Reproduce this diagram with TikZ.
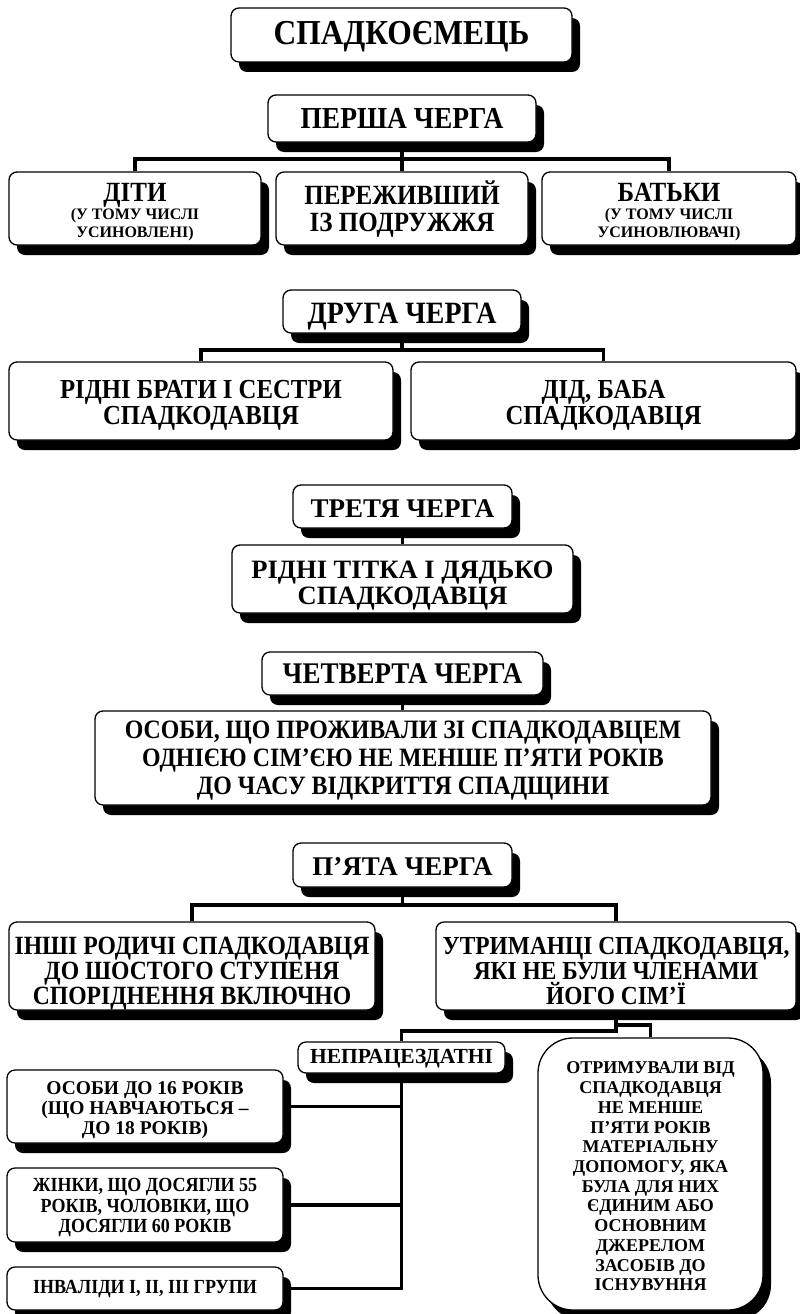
\documentclass[tikz,border=0pt]{standalone}
\usepackage{fontspec}
\setmainfont{Liberation Serif}
\newfontfamily\cond{Liberation Serif}[FakeStretch=0.9]
\usetikzlibrary{shadows}
\pgfdeclarelayer{bg}
\pgfsetlayers{bg,main}
\newcommand{\fs}[2]{\fontsize{#1}{#2}\selectfont}
\tikzset{
  box/.style={draw, line width=1.3pt, rounded corners=8pt, fill=white,
    align=center, inner sep=0pt,
    drop shadow={shadow xshift=8pt, shadow yshift=-10pt, fill=black, opacity=1}},
  conn/.style={line width=3.5pt, line join=miter},
}
\begin{document}
\begin{tikzpicture}[x=1pt, y=-1pt]
\begin{pgfonlayer}{bg}
\fill[white] (0,0) rectangle (800,1314);
\end{pgfonlayer}
\useasboundingbox (0,0) rectangle (800,1314);

\node[box, minimum width=341pt, minimum height=54pt, font=\cond\bfseries\fs{35}{37},
  text height=23.9pt, text depth=5pt] (title) at (401.5,35) {СПАДКОЄМЕЦЬ};

\node[box, minimum width=268pt, minimum height=47pt, font=\cond\bfseries\fs{30.5}{32},
  text height=25pt, text depth=5pt] (p1) at (402,118.5) {ПЕРША ЧЕРГА};
\node[box, minimum width=252pt, minimum height=73pt, font=\bfseries\fs{16}{18.25},
  text height=63pt, text depth=5pt] (diti) at (135,208.5)
  {{\cond\fs{27.8}{18.25}ДІТИ}\\(У ТОМУ ЧИСЛІ\\УСИНОВЛЕНІ)};
\node[box, minimum width=252pt, minimum height=73pt, font=\cond\bfseries\fs{27.8}{27},
  text height=50.2pt, text depth=5pt] (perezh) at (402,208.5)
  {ПЕРЕЖИВШИЙ\\ІЗ ПОДРУЖЖЯ};
\node[box, minimum width=254pt, minimum height=73pt, font=\bfseries\fs{16}{18.25},
  text height=63pt, text depth=5pt] (batky) at (669,208.5)
  {{\cond\fs{27.8}{18.25}БАТЬКИ}\\(У ТОМУ ЧИСЛІ\\УСИНОВЛЮВАЧІ)};

\node[box, minimum width=238pt, minimum height=43pt, font=\cond\bfseries\fs{31}{33},
  text height=28.3pt, text depth=5pt] (p2) at (402,311.5) {ДРУГА ЧЕРГА};
\node[box, minimum width=384pt, minimum height=78pt, font=\cond\bfseries\fs{27.5}{26},
  text height=52pt, text depth=5pt] (brat) at (201,401)
  {РІДНІ БРАТИ І СЕСТРИ\\СПАДКОДАВЦЯ};
\node[box, minimum width=385pt, minimum height=78pt, font=\cond\bfseries\fs{27.5}{26},
  text height=52pt, text depth=5pt] (did) at (603.5,401)
  {ДІД, БАБА\\СПАДКОДАВЦЯ};

\node[box, minimum width=219pt, minimum height=43pt, font=\bfseries\fs{27}{29},
  text height=26.7pt, text depth=5pt] (p3) at (402.5,506.5) {ТРЕТЯ ЧЕРГА};
\node[box, minimum width=341pt, minimum height=68pt, font=\bfseries\fs{26.5}{26},
  text height=56.4pt, text depth=5pt] (titka) at (402.5,579)
  {РІДНІ ТІТКА І ДЯДЬКО\\СПАДКОДАВЦЯ};

\node[box, minimum width=281pt, minimum height=43pt, font=\cond\bfseries\fs{30}{32},
  text height=24.7pt, text depth=5pt] (p4) at (402.5,673.5) {ЧЕТВЕРТА ЧЕРГА};
\node[box, minimum width=616pt, minimum height=94pt, font=\cond\bfseries\fs{26.5}{28},
  text height=78.4pt, text depth=5pt] (osoby) at (403,758)
  {ОСОБИ, ЩО ПРОЖИВАЛИ ЗІ СПАДКОДАВЦЕМ\\ОДНІЄЮ СІМ’ЄЮ НЕ МЕНШЕ П’ЯТИ РОКІВ\\ДО ЧАСУ ВІДКРИТТЯ СПАДЩИНИ};

\node[box, minimum width=219pt, minimum height=44pt, font=\bfseries\fs{27}{29},
  text height=26.7pt, text depth=5pt] (p5) at (402.5,865) {П’ЯТА ЧЕРГА};
\node[box, minimum width=366pt, minimum height=88pt, font=\cond\bfseries\fs{26.3}{25},
  text height=82.2pt, text depth=5pt] (inshi) at (192,966)
  {ІНШІ РОДИЧІ СПАДКОДАВЦЯ\\ДО ШОСТОГО СТУПЕНЯ\\СПОРІДНЕННЯ ВКЛЮЧНО};
\node[box, minimum width=360pt, minimum height=88pt, font=\cond\bfseries\fs{26}{25},
  text height=82pt, text depth=5pt] (utr) at (616,966)
  {УТРИМАНЦІ СПАДКОДАВЦЯ,\\ЯКІ НЕ БУЛИ ЧЛЕНАМИ\\ЙОГО СІМ’Ї};

\node[box, minimum width=207pt, minimum height=31pt, font=\bfseries\fs{21.5}{23},
  text height=17.1pt, text depth=5pt] (nepr) at (401.5,1057.5) {НЕПРАЦЕЗДАТНІ};
\node[box, minimum width=276pt, minimum height=73pt, font=\bfseries\fs{19.5}{20},
  text height=60.8pt, text depth=5pt] (os16) at (145,1106.5)
  {ОСОБИ ДО 16 РОКІВ\\(ЩО НАВЧАЮТЬСЯ –\\ДО 18 РОКІВ)};
\node[box, minimum width=276pt, minimum height=74pt, font=\cond\bfseries\fs{20}{20.5},
  text height=60.1pt, text depth=5pt] (zhinky) at (145,1205)
  {ЖІНКИ, ЩО ДОСЯГЛИ 55\\РОКІВ, ЧОЛОВІКИ, ЩО\\ДОСЯГЛИ 60 РОКІВ};
\node[box, minimum width=276pt, minimum height=43pt, font=\cond\bfseries\fs{20}{22},
  text height=15.1pt, text depth=5pt] (inval) at (145,1288.5)
  {ІНВАЛІДИ І, ІІ, ІІІ ГРУПИ};
\node[box, rounded corners=35pt, minimum width=225pt, minimum height=272pt, font=\bfseries\fs{18}{19.73},
  text height=238.8pt, text depth=5pt] (otr) at (650.5,1174)
  {ОТРИМУВАЛИ ВІД\\СПАДКОДАВЦЯ\\НЕ МЕНШЕ\\П’ЯТИ РОКІВ\\МАТЕРІАЛЬНУ\\ДОПОМОГУ, ЯКА\\БУЛА ДЛЯ НИХ\\ЄДИНИМ АБО\\ОСНОВНИМ\\ДЖЕРЕЛОМ\\ЗАСОБІВ ДО\\ІСНУВУННЯ};

\coordinate (b1) at (402,159);
\coordinate (b2) at (402,350);
\coordinate (b5) at (402.5,905);
\coordinate (ua) at (616,1031);
\coordinate (ub) at (616,1025);

\begin{pgfonlayer}{bg}
\draw[conn] (p1.south) -- (perezh.north);
\draw[conn] (diti.north) |- (b1) -| (batky.north);
\draw[conn] (p2.south) -- (b2);
\draw[conn] (brat.north) |- (b2) -| (did.north);
\draw[conn] (p3.south) -- (titka.north);
\draw[conn] (p4.south) -- (p4.south |- osoby.north);
\draw[conn] (p5.south) -- (b5);
\draw[conn] (inshi.north) |- (b5) -| (utr.north);
\draw[conn] (utr.south) -- (ua) -| (nepr.north);
\draw[conn] (ub) -| (otr.north);
\draw[conn] (nepr.south) -- (nepr.south |- inval.east) -- (inval.east);
\draw[conn] (os16.east) -- (os16.east -| nepr.south);
\draw[conn] (zhinky.east) -- (zhinky.east -| nepr.south);
\end{pgfonlayer}
\end{tikzpicture}
\end{document}
